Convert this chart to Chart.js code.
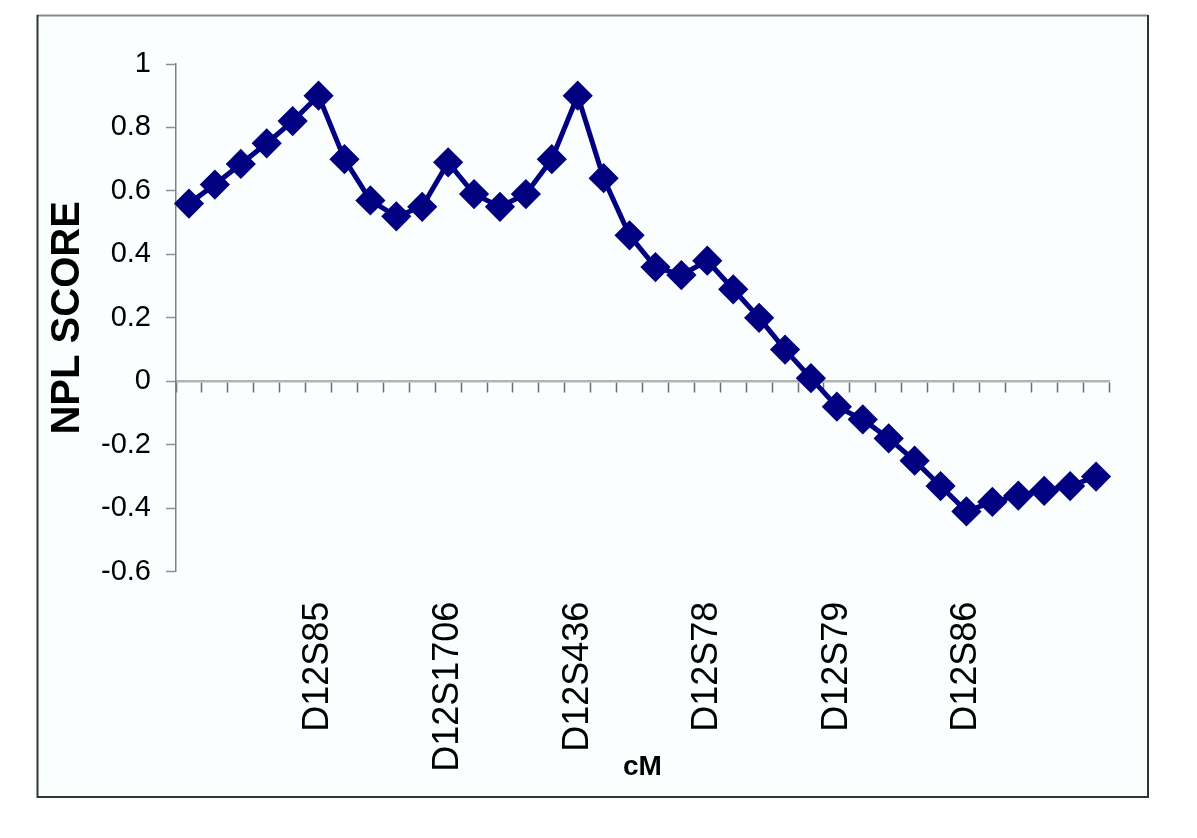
<!DOCTYPE html>
<html>
<head>
<meta charset="utf-8">
<script src="https://cdn.jsdelivr.net/npm/chart.js@4.4.1/dist/chart.umd.min.js"></script>
<style>
  html, body { margin: 0; padding: 0; background: #ffffff; }
  canvas { display: block; }
</style>
</head>
<body>
<canvas id="c" width="1197" height="838"></canvas>
<script>
// Marker labels shown under the x axis (one per category, blank where no marker)
const categories = [
  '', '', '', '', '', 'D12S85',
  '', '', '', '', 'D12S1706',
  '', '', '', '', 'D12S436',
  '', '', '', '', 'D12S78',
  '', '', '', '', 'D12S79',
  '', '', '', '', 'D12S86',
  '', '', '', '', ''
];
// NPL score values
const nplScores = [
  0.56, 0.62, 0.685, 0.75, 0.82, 0.90,
  0.70, 0.57, 0.52, 0.55, 0.69,
  0.59, 0.55, 0.59, 0.70, 0.90,
  0.64, 0.46, 0.36, 0.335, 0.38,
  0.29, 0.20, 0.10, 0.01, -0.08,
  -0.12, -0.18, -0.25, -0.33, -0.41,
  -0.38, -0.36, -0.345, -0.33, -0.30
];
const yTickMin = -0.6;
const yTickMax = 1;
const yTickStep = 0.2;
const yTitle = 'NPL SCORE';
const xTitle = 'cM';

const FONT = "'Liberation Sans', Arial, sans-serif";

const framePlugin = {
  id: 'frame',
  beforeDraw(chart) {
    const ctx = chart.ctx;
    ctx.save();
    ctx.fillStyle = '#fbfefe';
    ctx.fillRect(37, 15, 1111, 782);
    ctx.lineWidth = 2;
    ctx.strokeStyle = '#8a8a8a';
    ctx.beginPath(); ctx.moveTo(37, 15.5); ctx.lineTo(1148, 15.5); ctx.stroke();
    ctx.strokeStyle = '#333333';
    ctx.beginPath();
    ctx.moveTo(37.5, 15); ctx.lineTo(37.5, 797); ctx.lineTo(1148, 797); ctx.lineTo(1148, 15);
    ctx.stroke();
    ctx.restore();
  }
};

new Chart(document.getElementById('c'), {
  type: 'line',
  data: {
    labels: categories,
    datasets: [{
      data: nplScores,
      xAxisID: 'x',
      yAxisID: 'y',
      borderColor: '#000080',
      backgroundColor: '#000080',
      borderWidth: 5,
      pointStyle: 'rectRot',
      pointRadius: 13,
      pointBorderWidth: 3,
      pointBorderColor: '#000080',
      pointBackgroundColor: '#000080',
      tension: 0,
      fill: false
    }]
  },
  options: {
    responsive: false,
    animation: false,
    devicePixelRatio: 1,
    layout: { padding: { left: 0, right: 88, top: 64, bottom: 38 } },
    plugins: { legend: { display: false }, tooltip: { enabled: false } },
    scales: {
      x: {
        type: 'category',
        position: 'bottom',
        offset: true,
        grid: { display: false, drawTicks: false, offset: true },
        border: { display: false },
        ticks: {
          autoSkip: false,
          minRotation: 90,
          maxRotation: 90,
          padding: 30,
          color: '#000000',
          font: { family: FONT, size: 36 }
        },
        title: {
          display: true,
          text: xTitle,
          color: '#000000',
          font: { family: FONT, size: 28, weight: 'bold' },
          padding: { top: 0, bottom: 16 }
        },
        afterFit(scale) { scale.height = 228.3; }
      },
      xZero: {
        type: 'category',
        position: { y: 0 },
        offset: true,
        labels: categories,
        grid: {
          drawOnChartArea: false,
          offset: true,
          tickLength: 10,
          tickColor: '#6e6e6e',
          tickWidth: 1.5
        },
        border: { display: true, color: '#b4b4b4', width: 2.5 },
        ticks: { display: false }
      },
      y: {
        type: 'linear',
        position: 'left',
        min: yTickMin,
        max: yTickMax,
        grid: {
          drawOnChartArea: false,
          tickLength: 10,
          tickColor: '#909090',
          tickWidth: 1.5
        },
        border: { display: true, color: '#808080', width: 1.5 },
        ticks: {
          stepSize: yTickStep,
          padding: 15,
          color: '#000000',
          font: { family: FONT, size: 29 },
          callback(value) { return String(Number(value.toFixed(1))); }
        },
        title: {
          display: true,
          text: yTitle,
          color: '#000000',
          font: { family: FONT, size: 40, weight: 'bold' },
          padding: { top: 43.5, bottom: 0 }
        },
        afterFit(scale) { scale.width = 176; }
      }
    }
  },
  plugins: [framePlugin]
});
</script>
</body>
</html>
